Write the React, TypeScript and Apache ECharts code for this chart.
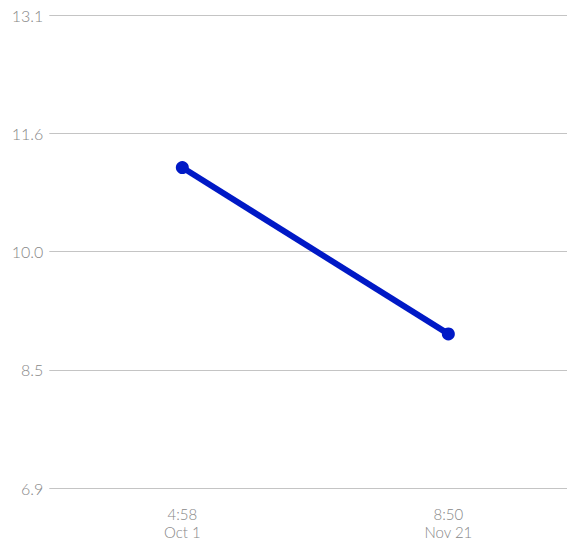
import React, { useEffect, useRef } from "react";
import * as echarts from "echarts";

const categories = ["4:58\nOct 1", "8:50\nNov 21"];
const values = [11.1, 8.92];
const yTicks = [6.9, 8.45, 10.0, 11.55, 13.1];
const yTickLabels = ["6.9", "8.5", "10.0", "11.6", "13.1"];

export default function App() {
  const ref = useRef<HTMLDivElement>(null);
  useEffect(() => {
    if (!ref.current) return;
    const chart = echarts.init(ref.current, undefined, { renderer: "svg" });
    const labelStyle = {
      color: "#878787",
      fontFamily: "Lato",
      fontWeight: 300 as any,
      fontSize: 16,
    };
    const xIdx = categories.map((_, i) => i);
    chart.setOption({
      animation: false,
      backgroundColor: "#ffffff",
      grid: { left: 49.3, right: 0, top: 15, bottom: 53 },
      xAxis: {
        type: "value",
        min: -0.5,
        max: 1.446,
        axisLine: { show: false },
        axisTick: { show: false, customValues: xIdx },
        splitLine: { show: false },
        axisLabel: {
          ...labelStyle,
          fontSize: 15,
          lineHeight: 18,
          margin: 17,
          customValues: xIdx,
          formatter: (v: number) => categories[Math.round(v)] ?? "",
        },
      },
      yAxis: {
        type: "value",
        min: 6.9,
        max: 13.1,
        axisLine: { show: false },
        axisTick: { show: false, customValues: yTicks },
        splitLine: { show: true, lineStyle: { color: "#c4c4c4", width: 1 } },
        axisLabel: {
          ...labelStyle,
          margin: 6,
          customValues: yTicks,
          formatter: (v: number) => {
            let best = 0;
            for (let i = 1; i < yTicks.length; i++) {
              if (Math.abs(yTicks[i] - v) < Math.abs(yTicks[best] - v)) best = i;
            }
            return yTickLabels[best];
          },
        },
      },
      series: [
        {
          type: "line",
          data: values.map((v, i) => [xIdx[i], v]),
          symbol: "circle",
          symbolSize: 13,
          lineStyle: { color: "#0019c6", width: 6 },
          itemStyle: { color: "#0019c6" },
        },
      ],
    });
    return () => chart.dispose();
  }, []);
  return (
    <div
      ref={ref}
      style={{ position: "fixed", left: 0, top: 0, width: 567, height: 541 }}
    />
  );
}
